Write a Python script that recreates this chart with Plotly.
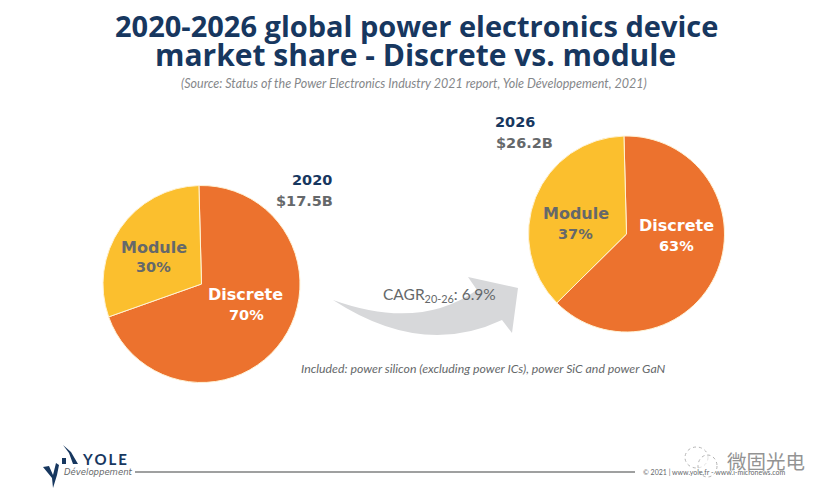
import plotly.graph_objects as go

W, H = 830, 496
categories = ["Discrete", "Module"]
values_2020 = [70, 30]
values_2026 = [63, 37]
years = ["2020", "2026"]
totals = ["$17.5B", "$26.2B"]
colors = ["#EC722E", "#FBBF2E"]
NAVY = "#17375F"
GRAY = "#65686A"
LIGHT = "#85878A"
FONT = "Lato"
HEAD = "Open Sans"
WIDE = "DejaVu Sans"

def px(x): return x / W
def py(y): return 1 - y / H

def domain(cx, cy, r):
    return dict(x=[px(cx - r), px(cx + r)], y=[py(cy + r), py(cy - r)])

slice_line = dict(color="#FFF3D6", width=1)
fig = go.Figure()
fig.add_trace(go.Pie(labels=categories, values=values_2020, sort=False, direction="clockwise",
                     rotation=-1.5, domain=domain(201.5, 284, 98.5),
                     marker=dict(colors=colors, line=slice_line),
                     textinfo="none", hoverinfo="label+percent", showlegend=False))
fig.add_trace(go.Pie(labels=categories, values=values_2026, sort=False, direction="clockwise",
                     rotation=-1.5, domain=domain(626.5, 234, 98),
                     marker=dict(colors=colors, line=slice_line),
                     textinfo="none", hoverinfo="label+percent", showlegend=False))

def note(x, y, text, size, color, bold=False, italic=False, family=FONT, anchor="center"):
    if bold: text = f"<b>{text}</b>"
    if italic: text = f"<i>{text}</i>"
    return dict(x=px(x), y=py(y), xref="paper", yref="paper", text=text, showarrow=False,
                xanchor=anchor, yanchor="middle", align="center",
                font=dict(size=size, color=color, family=family))

annotations = [
    note(416, 25, "2020-2026 global power electronics device", 29, NAVY, bold=True, family=HEAD),
    note(415, 55, "market share - Discrete vs. module", 30, NAVY, bold=True, family=HEAD),
    note(414, 83, "(Source: Status of the Power Electronics Industry 2021 report, Yole Développement, 2021)", 12.5, LIGHT, italic=True),
    note(312, 180, years[0], 14.5, NAVY, bold=True, family=WIDE),
    note(304, 201, totals[0], 14.5, GRAY, bold=True, family=WIDE),
    note(515, 122, years[1], 14.5, NAVY, bold=True, family=WIDE),
    note(524, 143, totals[1], 14.5, GRAY, bold=True, family=WIDE),
    note(154, 247, categories[1], 16, GRAY, bold=True, family=WIDE),
    note(153, 267, f"{values_2020[1]}%", 14.5, GRAY, bold=True, family=WIDE),
    note(245.5, 294, categories[0], 16, "#FFFFFF", bold=True, family=WIDE),
    note(246, 315, f"{values_2020[0]}%", 14.5, "#FFFFFF", bold=True, family=WIDE),
    note(576, 214, categories[1], 16, GRAY, bold=True, family=WIDE),
    note(575, 234, f"{values_2026[1]}%", 14.5, GRAY, bold=True, family=WIDE),
    note(676, 226, categories[0], 16, "#FFFFFF", bold=True, family=WIDE),
    note(676, 246, f"{values_2026[0]}%", 14.5, "#FFFFFF", bold=True, family=WIDE),
    note(439, 295, "CAGR<sub>20-26</sub>: 6.9%", 15.5, GRAY),
    note(483, 368, "Included: power silicon (excluding power ICs), power SiC and power GaN", 12.3, GRAY, italic=True),
    note(80, 459, "<b>Y\u2009O\u2009L\u2009E</b>", 15, NAVY, anchor="left"),
    note(62, 472, "<i>Développement</i>", 8.5, GRAY, family=WIDE, anchor="left"),
    note(641, 472, "© 2021 | www.yole.fr - www.i-micronews.com", 7, GRAY, anchor="left"),
    note(725, 460, "微固光电", 19.5, "#939393", family="Noto Sans CJK SC", anchor="left"),
]

def P(points):
    return "M " + " L ".join(f"{px(x)} {py(y)}" for x, y in points) + " Z"

bubble = dict(color="#B5B5B5", width=1, dash="dot")
shapes = [
    dict(type="path", xref="paper", yref="paper", fillcolor="#D7D8DA", line=dict(width=0),
         path=(f"M {px(333)} {py(300)} Q {px(419)} {py(331)} {px(477)} {py(290)} "
               f"L {px(468)} {py(277)} L {px(518)} {py(288)} L {px(512)} {py(333)} L {px(502)} {py(320)} "
               f"Q {px(422)} {py(358)} {px(333)} {py(300)} Z")),
    dict(type="line", xref="paper", yref="paper", x0=px(135), x1=px(635), y0=py(472), y1=py(472),
         line=dict(color="#7F8081", width=1.5)),
    dict(type="path", xref="paper", yref="paper", fillcolor=NAVY, line=dict(width=0),
         path=P([(43, 467), (49, 466), (53, 475), (56, 463), (59, 465), (57, 475), (53, 488), (52, 478)])),
    dict(type="rect", xref="paper", yref="paper", x0=px(62), x1=px(66), y0=py(464), y1=py(458),
         fillcolor=NAVY, line=dict(width=0)),
    dict(type="path", xref="paper", yref="paper", fillcolor=NAVY, line=dict(width=0),
         path=P([(63, 445), (71, 452), (78, 464), (73, 464), (69, 453)])),
    dict(type="circle", xref="paper", yref="paper", x0=px(685), x1=px(708), y0=py(468), y1=py(447),
         line=bubble, fillcolor="rgba(255,255,255,0.6)"),
    dict(type="circle", xref="paper", yref="paper", x0=px(698), x1=px(717), y0=py(477), y1=py(455),
         line=bubble, fillcolor="rgba(255,255,255,0.6)"),
]

fig.update_layout(width=W, height=H, margin=dict(l=0, r=0, t=0, b=0), autosize=False,
                  paper_bgcolor="#FFFFFF", plot_bgcolor="#FFFFFF", showlegend=False,
                  annotations=annotations, shapes=shapes)
fig.write_html("out.html", config=dict(displayModeBar=False),
               post_script="document.body.style.margin='0';")
